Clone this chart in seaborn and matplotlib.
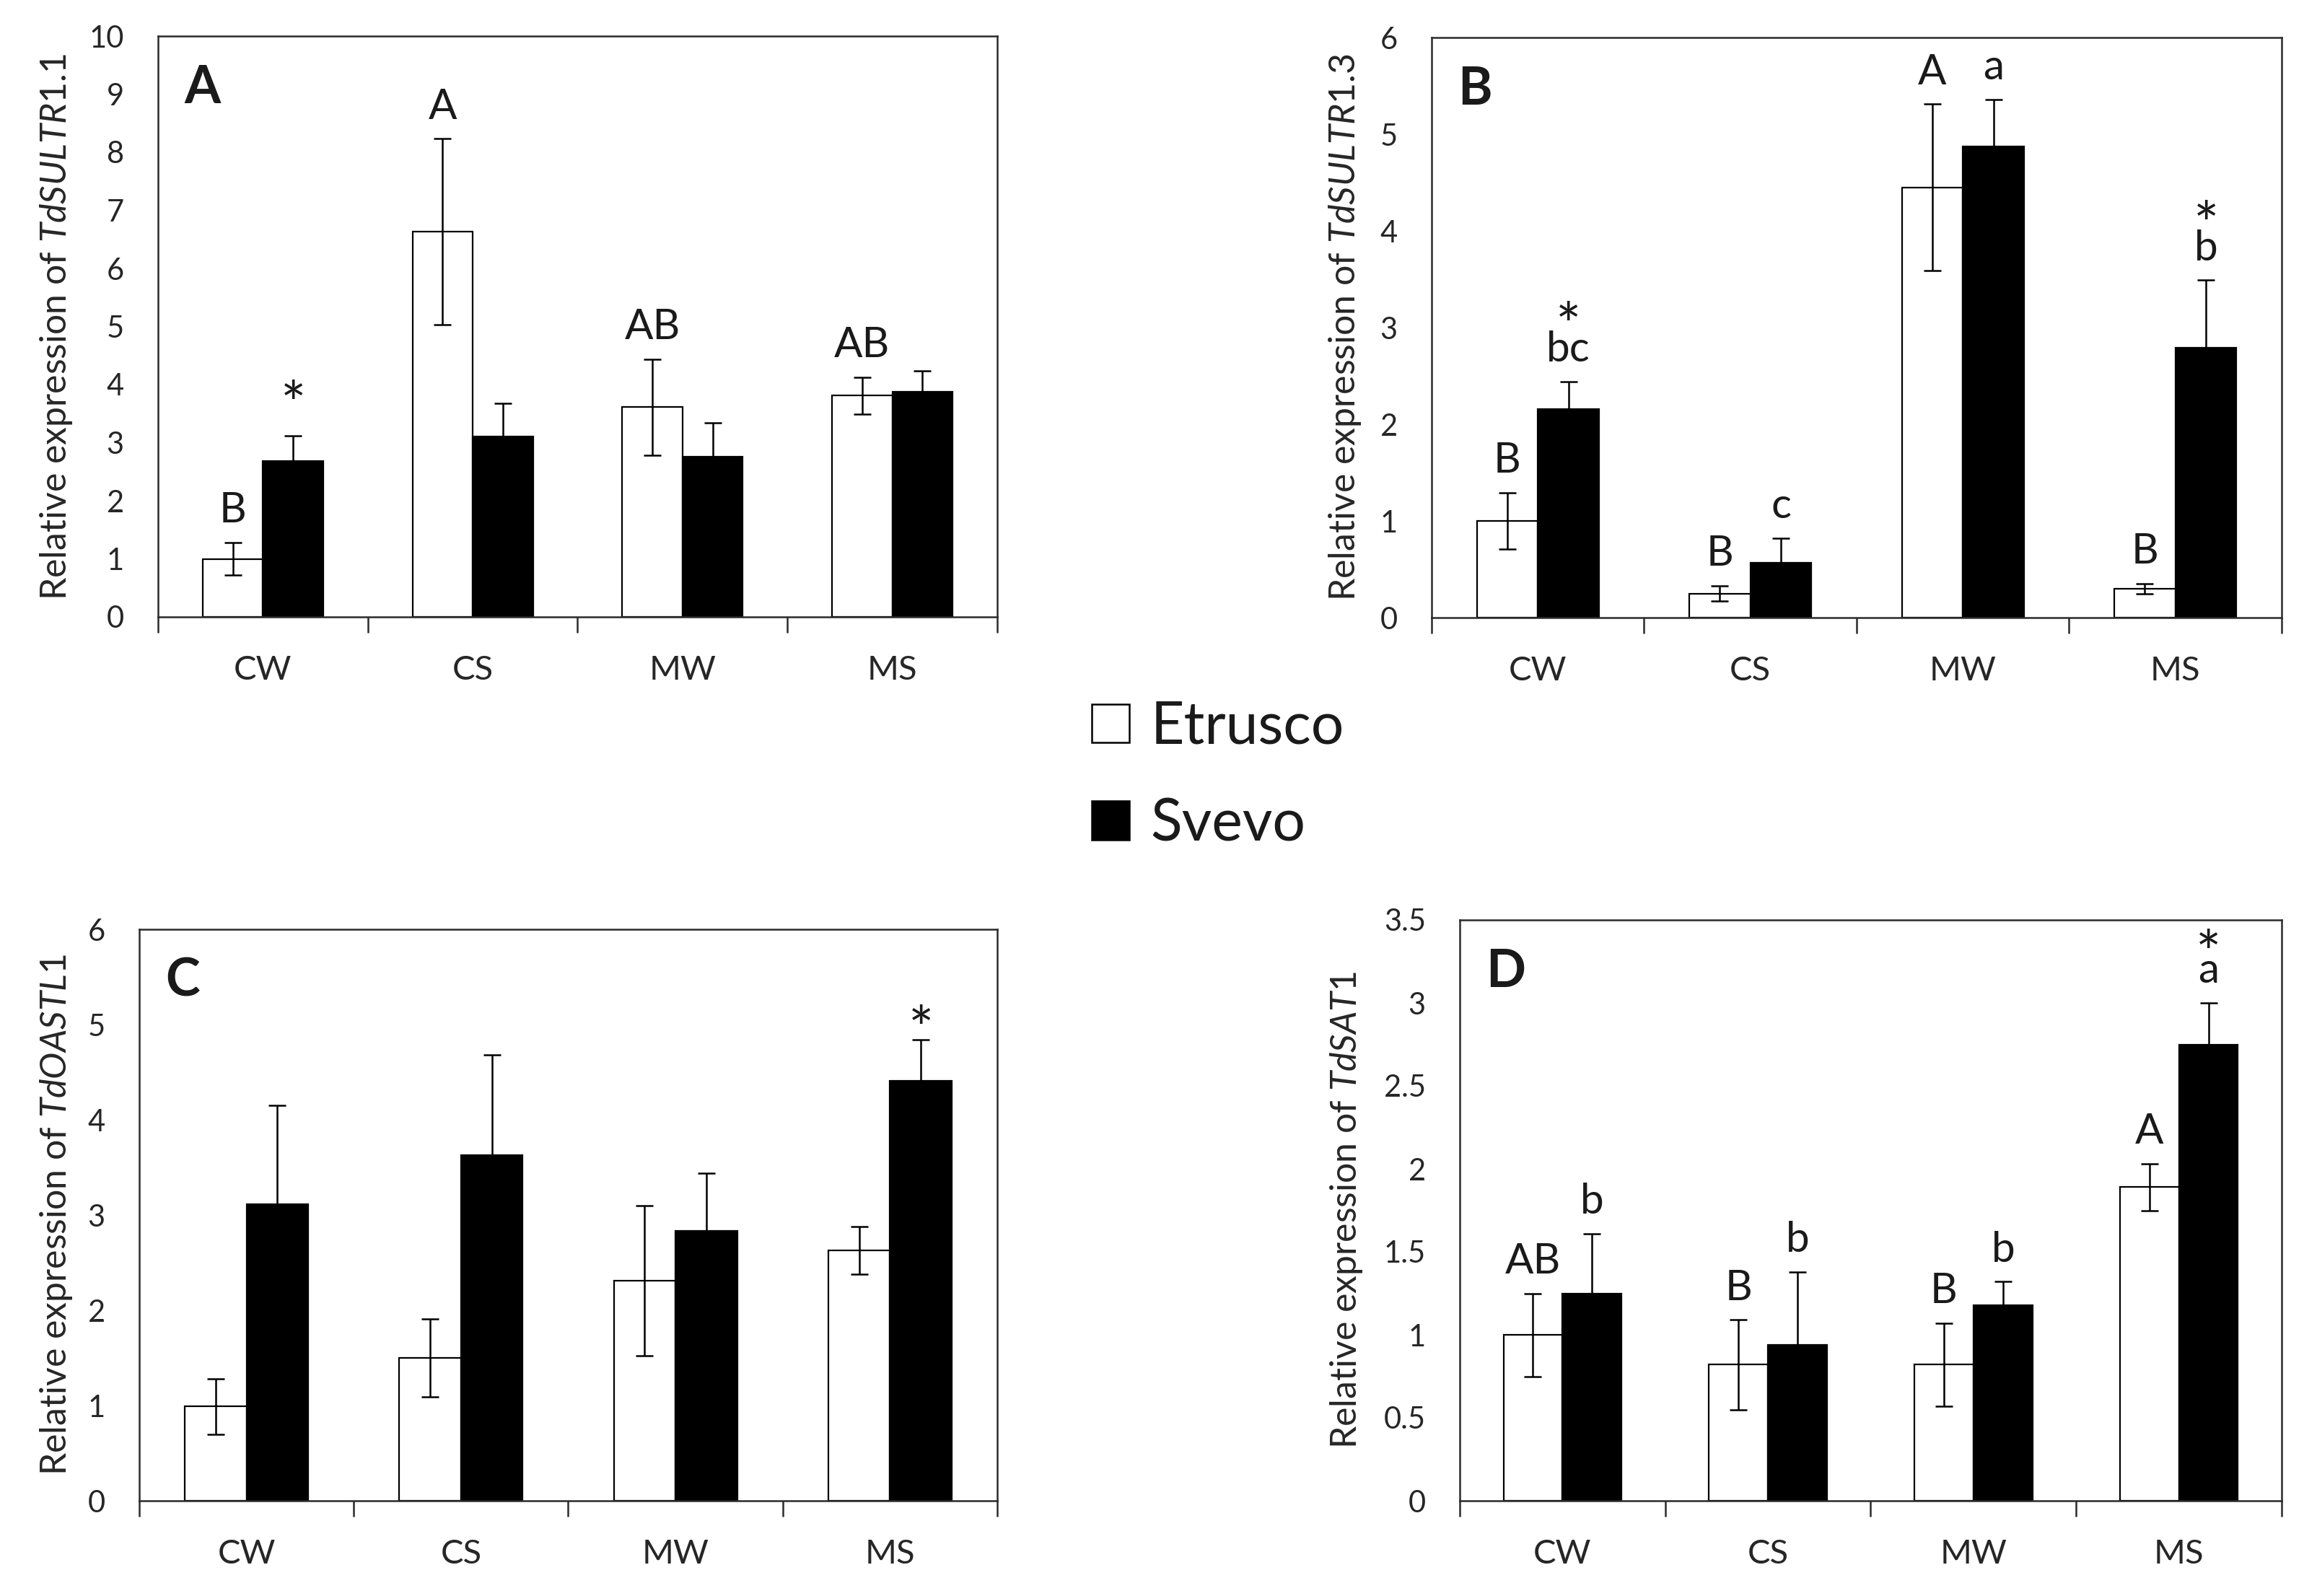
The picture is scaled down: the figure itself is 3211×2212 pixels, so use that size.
import matplotlib
matplotlib.use('Agg')
import matplotlib.pyplot as plt
import matplotlib.patches as mpatches
from matplotlib.ticker import FuncFormatter, MultipleLocator, FixedLocator
import seaborn as sns
import pandas as pd

# Data
conditions = ['CW', 'CS', 'MW', 'MS']
cultivars = ['Etrusco', 'Svevo']

# A - TdSULTR1.1
a_etrusco = [1.0, 6.63, 3.61, 3.81]
a_etrusco_err = [0.28, 1.6, 0.83, 0.32]
a_svevo = [2.68, 3.10, 2.76, 3.88]
a_svevo_err = [0.44, 0.58, 0.58, 0.35]
a_letters_etrusco = ['B', 'A', 'AB', 'AB']
a_letters_svevo = ['', '', '', '']
a_stars = [True, False, False, False]

# B - TdSULTR1.3
b_etrusco = [1.0, 0.25, 4.45, 0.30]
b_etrusco_err = [0.29, 0.08, 0.86, 0.05]
b_svevo = [2.16, 0.57, 4.87, 2.79]
b_svevo_err = [0.28, 0.25, 0.49, 0.70]
b_letters_etrusco = ['B', 'B', 'A', 'B']
b_letters_svevo = ['bc', 'c', 'a', 'b']
b_stars = [True, False, False, True]

# C - TdOASTL1
c_etrusco = [0.99, 1.50, 2.31, 2.63]
c_etrusco_err = [0.29, 0.41, 0.79, 0.25]
c_svevo = [3.11, 3.63, 2.83, 4.41]
c_svevo_err = [1.04, 1.05, 0.61, 0.43]
c_letters_etrusco = ['', '', '', '']
c_letters_svevo = ['', '', '', '']
c_stars = [False, False, False, True]

# D - TdSAT1
d_etrusco = [1.0, 0.82, 0.82, 1.89]
d_etrusco_err = [0.25, 0.27, 0.25, 0.14]
d_svevo = [1.25, 0.94, 1.18, 2.75]
d_svevo_err = [0.36, 0.44, 0.14, 0.25]
d_letters_etrusco = ['AB', 'B', 'B', 'A']
d_letters_svevo = ['b', 'b', 'b', 'a']
d_stars = [False, False, False, True]

sns.set_theme(style='white')
plt.rcParams['font.family'] = ['Lato', 'DejaVu Sans']
plt.rcParams['mathtext.fontset'] = 'custom'
plt.rcParams['mathtext.rm'] = 'Lato'
plt.rcParams['mathtext.it'] = 'Lato:italic'
plt.rcParams['text.color'] = '#1a1a1a'

W, H = 3212, 2212
fig = plt.figure(figsize=(W / 200, H / 200), dpi=200)


def px_rect(left, right, top, bottom):
    return [left / W, 1 - bottom / H, (right - left) / W, (bottom - top) / H]


# star_gap: offset (pt) of a lone star above the error bar,
# star_lift: offset (pt) of a star above the baseline of a letter
panels = [
    dict(letter='A', gene='TdSULTR1.1', rect=px_rect(219, 1382, 50, 855), label_x=103,
         ymax=10, step=1, star_gap=5.5, star_lift=7.0,
         etr=a_etrusco, etr_err=a_etrusco_err, sv=a_svevo, sv_err=a_svevo_err,
         let_e=a_letters_etrusco, let_s=a_letters_svevo, stars=a_stars),
    dict(letter='B', gene='TdSULTR1.3', rect=px_rect(1984, 3162, 52, 856), label_x=1889,
         ymax=6, step=1, star_gap=5.5, star_lift=7.5,
         etr=b_etrusco, etr_err=b_etrusco_err, sv=b_svevo, sv_err=b_svevo_err,
         let_e=b_letters_etrusco, let_s=b_letters_svevo, stars=b_stars),
    dict(letter='C', gene='TdOASTL1', rect=px_rect(193, 1382, 1288, 2080), label_x=103,
         ymax=6, step=1, star_gap=-5.0, star_lift=7.0,
         etr=c_etrusco, etr_err=c_etrusco_err, sv=c_svevo, sv_err=c_svevo_err,
         let_e=c_letters_etrusco, let_s=c_letters_svevo, stars=c_stars),
    dict(letter='D', gene='TdSAT1', rect=px_rect(2023, 3162, 1275, 2080), label_x=1891,
         ymax=3.5, step=0.5, star_gap=5.5, star_lift=4.5,
         etr=d_etrusco, etr_err=d_etrusco_err, sv=d_svevo, sv_err=d_svevo_err,
         let_e=d_letters_etrusco, let_s=d_letters_svevo, stars=d_stars),
]

palette = {'Etrusco': 'white', 'Svevo': 'black'}
line_col = '#2b2b2b'

for p in panels:
    ax = fig.add_axes(p['rect'])
    df = pd.DataFrame({
        'condition': conditions * 2,
        'cultivar': [cultivars[0]] * 4 + [cultivars[1]] * 4,
        'value': p['etr'] + p['sv'],
    })
    sns.barplot(data=df, x='condition', y='value', hue='cultivar', order=conditions,
                hue_order=cultivars, palette=palette, edgecolor='black', linewidth=0.8,
                width=0.575, gap=0, errorbar=None, legend=False, ax=ax)

    errs = [p['etr_err'], p['sv_err']]
    labels = [p['let_e'], p['let_s']]
    bar_groups = list(ax.containers)[:2]
    for k, cont in enumerate(bar_groups):
        for i, bar in enumerate(cont):
            x = bar.get_x() + bar.get_width() / 2
            h = bar.get_height()
            e = errs[k][i]
            ax.errorbar(x, h, yerr=e, fmt='none', ecolor='black', elinewidth=0.9,
                        capsize=4.2, capthick=0.9, zorder=5)
            txt = labels[k][i]
            if txt:
                ax.annotate(txt, (x, h + e), xytext=(0, 10), textcoords='offset points',
                            ha='center', va='baseline', fontsize=21)
                star_off = 10 + p['star_lift']
            else:
                star_off = p['star_gap']
            if k == 1 and p['stars'][i]:
                ax.annotate('*', (x, h + e), xytext=(0, star_off), textcoords='offset points',
                            ha='center', va='baseline', fontsize=30)

    ax.set_xlim(-0.5, 3.5)
    ax.set_ylim(0, p['ymax'])
    ax.yaxis.set_major_locator(MultipleLocator(p['step']))
    ax.yaxis.set_major_formatter(FuncFormatter(lambda v, pos: f'{v:g}'))
    ax.xaxis.set_minor_locator(FixedLocator([-0.5, 0.5, 1.5, 2.5, 3.5]))
    ax.tick_params(axis='x', which='major', length=0, pad=19, labelsize=17)
    ax.tick_params(axis='x', which='minor', length=8, width=0.9, color=line_col, direction='out', bottom=True)
    ax.tick_params(axis='y', which='major', length=0, pad=17, labelsize=15, left=False)
    for s in ax.spines.values():
        s.set_color(line_col)
        s.set_linewidth(0.9)
        s.set_visible(True)
    ax.set_xlabel('')
    ax.set_ylabel('Relative expression of $\\mathit{' + p['gene'] + '}$', fontsize=18)
    r = p['rect']
    ax.yaxis.set_label_coords(p['label_x'] / W, r[1] + r[3] / 2, transform=fig.transFigure)
    ax.annotate(p['letter'], (0, 1), xycoords='axes fraction', xytext=(13, -14),
                textcoords='offset points', ha='left', va='top', fontsize=26, fontweight='bold')

handles = [mpatches.Patch(facecolor='white', edgecolor='black', linewidth=0.9),
           mpatches.Patch(facecolor='black', edgecolor='black', linewidth=0.9)]
fig.legend(handles, cultivars, loc='center left', bbox_to_anchor=(1513 / W, 1 - 1075 / H),
           frameon=False, fontsize=29, handlelength=0.65, handleheight=0.65,
           handletextpad=0.36, labelspacing=0.75, borderpad=0, borderaxespad=0)

fig.savefig('out.png', dpi=200)
